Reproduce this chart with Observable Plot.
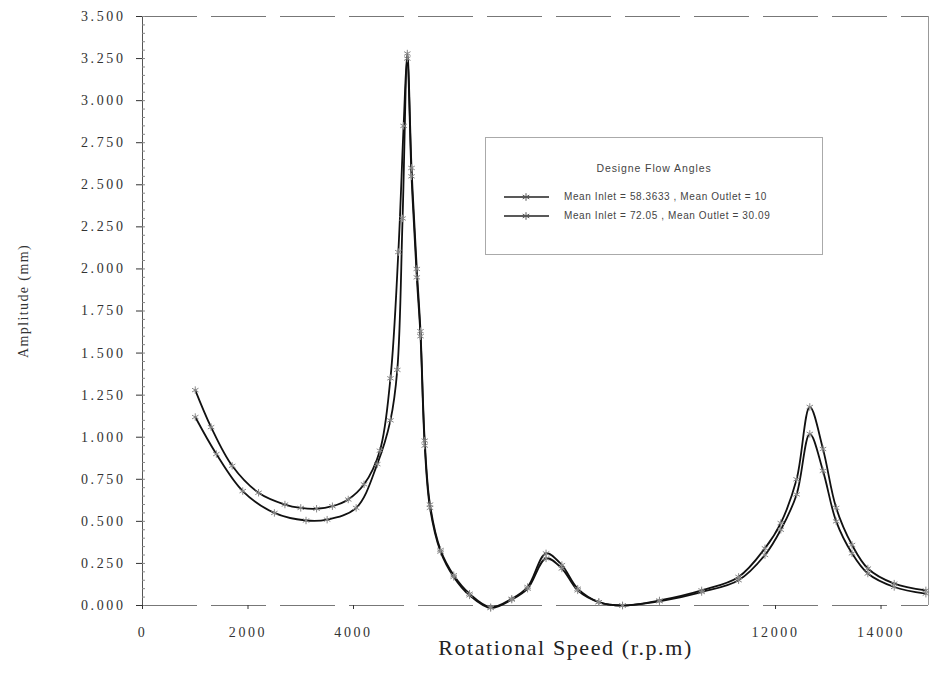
<!DOCTYPE html>
<html><head><meta charset="utf-8">
<script src="https://cdn.jsdelivr.net/npm/d3@7"></script>
<script src="https://cdn.jsdelivr.net/npm/@observablehq/plot@0.6"></script>
<style>
body{margin:0;background:#fff;}
#wrap{position:relative;width:932px;height:674px;}
#wrap g[aria-label="y-axis tick label"], #wrap g[aria-label="x-axis tick label"]{letter-spacing:2.6px;}
#wrap .xtitle{letter-spacing:1.6px;}
#wrap .ytitle{letter-spacing:1.4px;}
#legend{position:absolute;left:485px;top:137px;width:338px;height:118px;border:1px solid #aaa;box-sizing:border-box;font-family:"Liberation Sans",Arial,sans-serif;font-size:10px;color:#444;background:#fff;}
#legend .t{position:absolute;left:0;width:100%;text-align:center;top:24px;font-size:10.5px;letter-spacing:0.9px;}
#legend .row{position:absolute;left:16px;height:14px;}
#legend .row svg{position:absolute;left:0;top:0;}
#legend .row span{position:absolute;left:62px;top:1px;white-space:nowrap;letter-spacing:0.6px;}
</style></head><body><div id="wrap"></div>
<script>
const seriesNames = ["Mean Inlet = 58.3633 , Mean Outlet = 10", "Mean Inlet = 72.05 , Mean Outlet = 30.09"];
const legendTitle = "Designe Flow Angles";

const speedA = [1000,1300,1700,2200,2700,3000,3300,3600,3900,4200,4500,4700,4850,4950,5020,5100,5200,5270,5350,5450,5650,5900,6200,6600,7000,7300,7650,7950,8250,8650,9100,9800,10600,11300,11800,12100,12400,12650,12900,13150,13450,13750,14250,14850];
const ampA   = [1.28,1.06,0.83,0.67,0.60,0.58,0.575,0.59,0.63,0.72,0.92,1.35,2.10,2.85,3.28,2.60,2.00,1.63,0.98,0.60,0.33,0.18,0.07,-0.01,0.04,0.11,0.31,0.24,0.10,0.02,0.00,0.03,0.09,0.17,0.34,0.49,0.75,1.18,0.93,0.58,0.36,0.22,0.13,0.09];

const speedB = [1000,1400,1900,2500,3100,3500,4050,4450,4700,4830,4930,5020,5100,5200,5270,5350,5450,5650,5900,6200,6600,7000,7300,7650,7950,8250,8650,9100,9800,10600,11300,11800,12100,12400,12650,12900,13150,13450,13750,14250,14850];
const ampB   = [1.12,0.90,0.68,0.55,0.505,0.51,0.58,0.84,1.10,1.40,2.30,3.25,2.55,1.95,1.60,0.95,0.58,0.32,0.17,0.06,-0.015,0.035,0.10,0.28,0.22,0.09,0.02,0.00,0.025,0.08,0.15,0.30,0.45,0.66,1.02,0.80,0.50,0.31,0.19,0.11,0.07];

const xTickLabels = [0,2000,4000,12000,14000];
const yTicks = d3.range(0, 3.5001, 0.25);
const yMinor = d3.range(0, 3.5001, 0.05);
const xDomain = [0, 14900];
const yDomain = [0, 3.5];

const data = [
  ...speedA.map((s,i)=>({series:seriesNames[0], speed:s, amp:ampA[i]})),
  ...speedB.map((s,i)=>({series:seriesNames[1], speed:s, amp:ampB[i]}))
];

const chart = Plot.plot({
  width:932, height:674,
  marginLeft:142, marginRight:4, marginTop:16, marginBottom:69,
  style:{fontFamily:"'Liberation Serif','Times New Roman',serif", fontSize:"14px", color:"#333", background:"#fff", overflow:"visible"},
  x:{domain:xDomain, label:null},
  y:{domain:yDomain, label:null},
  marks:[
    Plot.ruleY([yDomain[1], 0], {stroke:"#777", strokeWidth:1, strokeDasharray:"55,14"}),
    Plot.ruleX([xDomain[1]], {stroke:"#999"}),
    Plot.ruleX([0], {stroke:"#555"}),
    Plot.axisY({ticks:yTicks, tickFormat:d3.format(".3f"), tickSize:6, tickPadding:11, label:null}),
    Plot.axisY({ticks:yMinor, tickSize:-3, tickFormat:()=>"", label:null, stroke:"#888"}),
    Plot.axisX({ticks:xTickLabels, tickFormat:d3.format("d"), tickSize:4, tickPadding:18, label:null}),
    Plot.line(data, {x:"speed", y:"amp", z:"series", curve:"catmull-rom", stroke:"#111", strokeWidth:1.8}),
    Plot.dot(data, {x:"speed", y:"amp", symbol:"asterisk", r:3.5, stroke:"#888", strokeWidth:1}),
    Plot.text(["Rotational Speed (r.p.m)"], {frameAnchor:"bottom", dx:30, dy:49, fontSize:22, fill:"#222", className:"xtitle"}),
    Plot.text(["Amplitude (mm)"], {frameAnchor:"left", textAnchor:"middle", dx:-119, dy:-10, rotate:-90, fontSize:14, fill:"#333", className:"ytitle"})
  ]
});
const wrap = document.getElementById("wrap");
wrap.appendChild(chart);

// legend overlay
const leg = document.createElement("div");
leg.id = "legend";
const t = document.createElement("div");
t.className = "t"; t.textContent = legendTitle;
leg.appendChild(t);
const sym = d3.symbol(d3.symbolAsterisk, 40)();
seriesNames.forEach((name, i) => {
  const row = document.createElement("div");
  row.className = "row";
  row.style.top = (52 + i*19) + "px";
  row.innerHTML = `<svg width="50" height="14"><line x1="2" x2="47" y1="7" y2="7" stroke="#222" stroke-width="1.3"/><path d="${sym}" transform="translate(24,7)" fill="none" stroke="#555" stroke-width="1"/></svg><span>${name}</span>`;
  leg.appendChild(row);
});
wrap.appendChild(leg);
</script></body></html>
